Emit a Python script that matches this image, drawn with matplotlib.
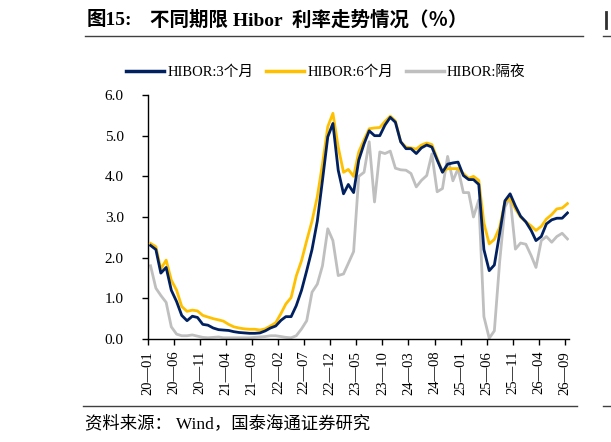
import numpy as np
import pandas as pd
import matplotlib
matplotlib.use("Agg")
import matplotlib.pyplot as plt
from matplotlib.lines import Line2D

plt.rcParams["font.family"] = ["Liberation Serif", "Noto Sans CJK SC"]

# monthly data, 2020-01 .. 2026-09
hibor_3m = [
    2.30, 2.20, 1.62, 1.76, 1.20, 0.92, 0.58, 0.45, 0.56, 0.53,
    0.36, 0.34, 0.27, 0.23, 0.22, 0.21, 0.18, 0.16, 0.15, 0.14,
    0.14, 0.15, 0.20, 0.27, 0.32, 0.46, 0.55, 0.55, 0.82, 1.20,
    1.68, 2.20, 2.90, 3.90, 4.97, 5.30, 4.15, 3.57, 3.80, 3.60,
    4.40, 4.80, 5.12, 5.00, 5.00, 5.26, 5.45, 5.33, 4.85, 4.68,
    4.68, 4.56, 4.70, 4.77, 4.72, 4.40, 4.10, 4.30, 4.33, 4.35,
    4.02, 3.92, 3.92, 3.80, 2.20, 1.68, 1.82, 2.60, 3.40, 3.57,
    3.27, 3.02, 2.88, 2.67, 2.42, 2.52, 2.83, 2.93, 2.97, 2.97,
    3.10,
]
hibor_6m = [
    2.35, 2.27, 1.72, 1.94, 1.45, 1.20, 0.80, 0.68, 0.71, 0.69,
    0.58, 0.54, 0.50, 0.47, 0.44, 0.36, 0.30, 0.27, 0.25, 0.24,
    0.24, 0.22, 0.25, 0.32, 0.40, 0.63, 0.86, 1.02, 1.55, 1.93,
    2.42, 2.90, 3.50, 4.30, 5.22, 5.55, 4.72, 4.10, 4.17, 4.00,
    4.60, 4.90, 5.17, 5.19, 5.20, 5.35, 5.48, 5.36, 4.85, 4.72,
    4.70, 4.67, 4.77, 4.82, 4.78, 4.44, 4.11, 4.19, 4.19, 4.19,
    4.07, 3.95, 4.00, 3.90, 2.85, 2.34, 2.45, 2.75, 3.38, 3.45,
    3.20, 3.00, 2.88, 2.78, 2.67, 2.77, 2.95, 3.06, 3.20, 3.22,
    3.33,
]
hibor_on = [
    1.80, 1.25, 1.07, 0.90, 0.30, 0.12, 0.08, 0.08, 0.10, 0.07,
    0.04, 0.03, 0.04, 0.05, 0.03, 0.03, 0.03, 0.03, 0.03, 0.03,
    0.04, 0.05, 0.06, 0.08, 0.08, 0.06, 0.04, 0.03, 0.08, 0.25,
    0.45, 1.15, 1.35, 1.80, 2.71, 2.42, 1.56, 1.60, 1.86, 2.15,
    4.00, 4.10, 4.85, 3.37, 4.60, 4.56, 4.62, 4.20, 4.16, 4.15,
    4.07, 3.74, 3.90, 4.02, 4.55, 3.62, 3.70, 4.49, 3.89, 4.19,
    3.60, 3.60, 3.00, 3.42, 0.55, 0.02, 0.20, 1.90, 3.25, 3.48,
    2.21, 2.36, 2.33, 2.05, 1.76, 2.42, 2.52, 2.38, 2.52, 2.60,
    2.46,
]
labels = ["HIBOR:3个月", "HIBOR:6个月", "HIBOR:隔夜"]
colors = ["#002060", "#FFC000", "#BFBFBF"]
yticks = [0, 1, 2, 3, 4, 5, 6]

months = pd.date_range("2020-01-01", periods=len(hibor_3m), freq="MS")
dates = months + pd.Timedelta(days=15)

W, H = 611, 442
fig = plt.figure(figsize=(W / 100, H / 100), dpi=100)
ax = fig.add_axes([148 / W, 1 - 339 / H, (569 - 148) / W, (339 - 95) / H])

ax.plot(dates, hibor_on, color=colors[2], lw=2.0, zorder=2)
ax.plot(dates, hibor_6m, color=colors[1], lw=2.0, zorder=3)
ax.plot(dates, hibor_3m, color=colors[0], lw=2.0, zorder=4)

ax.set_ylim(0, 6)
ax.set_yticks(yticks)
ax.set_yticklabels([f"{v:.1f}" for v in yticks], fontsize=11)
ax.set_xlim(pd.Timestamp("2020-01-01"), pd.Timestamp("2026-09-25"))
xt = pd.date_range("2020-01-01", "2026-09-01", freq="5MS")
ax.set_xticks(xt)
ax.set_xticklabels([d.strftime("%y—%m") for d in xt], rotation=90, fontsize=10.5)

for s in ["top", "right"]:
    ax.spines[s].set_visible(False)
for s in ["left", "bottom"]:
    ax.spines[s].set_linewidth(1.0)
ax.tick_params(axis="both", direction="out", length=4.5, width=1.0)
ax.tick_params(axis="x", pad=4)
ax.tick_params(axis="y", pad=13)

handles = [Line2D([], [], color=c, lw=2.5) for c in colors]
fig.legend(handles, labels, loc="center", bbox_to_anchor=(326 / W, 1 - 72 / H),
           ncol=3, frameon=False, fontsize=10.5, handlelength=2.6,
           handletextpad=0.2, columnspacing=0.9)

fig.text(87 / W, 1 - 20 / H, "图15:", fontsize=14, fontweight="bold",
         va="center", ha="left")
fig.text(150 / W, 1 - 20 / H, "不同期限 Hibor  利率走势情况（％）",
         fontsize=14, fontweight="bold", va="center", ha="left")
# edge of the neighbouring figure in the source page
fig.add_artist(Line2D([605.5 / W, 605.5 / W], [1 - 12 / H, 1 - 28 / H], color="#303030", lw=2.0))
fig.add_artist(Line2D([85 / W, 583 / W], [1 - 36 / H, 1 - 36 / H], color="#404040", lw=1.0))
fig.add_artist(Line2D([603 / W, 1.0], [1 - 36 / H, 1 - 36 / H], color="#404040", lw=1.0))
fig.add_artist(Line2D([83 / W, 577 / W], [1 - 406 / H, 1 - 406 / H], color="#404040", lw=1.0))
fig.add_artist(Line2D([603 / W, 1.0], [1 - 406 / H, 1 - 406 / H], color="#404040", lw=1.0))
fig.text(85 / W, 1 - 424 / H, "资料来源： Wind，国泰海通证券研究", fontsize=12.5,
         va="center", ha="left")

fig.savefig("out.png", dpi=100)
